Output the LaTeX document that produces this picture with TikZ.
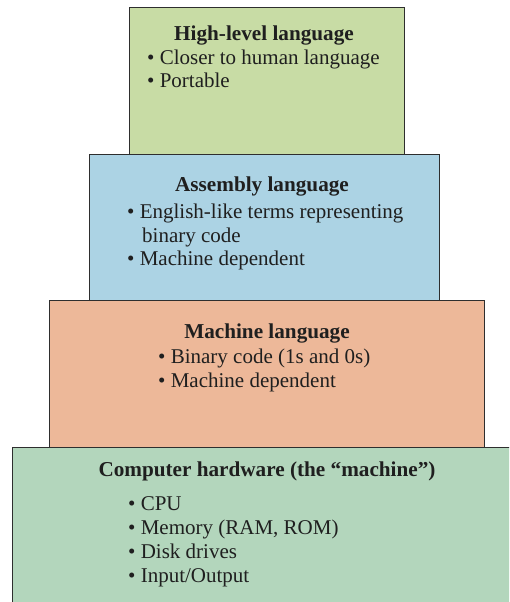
\documentclass[tikz,border=0pt]{standalone}
\usepackage{fontspec}
\setmainfont{Liberation Serif}
\definecolor{cHigh}{HTML}{C8DCA5}
\definecolor{cAsm}{HTML}{ACD3E4}
\definecolor{cMach}{HTML}{EDB899}
\definecolor{cHw}{HTML}{B3D6BC}
\definecolor{edge}{HTML}{2E2E2E}
\begin{document}
\begin{tikzpicture}[x=1pt,y=-1pt,
  layer/.style={draw=edge,line width=0.9pt},
  ttl/.style={anchor=base,inner sep=0pt,font=\fontsize{21.2}{23}\selectfont\bfseries,text=black!88},
  itm/.style={anchor=base west,inner sep=0pt,font=\fontsize{21}{23}\selectfont,text=black!88}]
\useasboundingbox (0,0) rectangle (509,602);
\clip (0,0) rectangle (509,602);
% layers
\draw[layer,fill=cHigh] (129,7) rectangle (404,154);
\draw[layer,fill=cAsm] (89,154) rectangle (439,300);
\draw[layer,fill=cMach] (49,300) rectangle (484,447);
\draw[layer,fill=cHw] (12,447) rectangle (530,630);
% high-level
\node[ttl] (t1) at (264,41) {High-level language};
\node[itm] (h1) at (147,65) {• Closer to human language};
\node[itm] (h2) at (147,88) {• Portable};
% assembly
\node[ttl] (t2) at (262,191) {Assembly language};
\node[itm] (a1) at (127,218) {• English-like terms representing};
\node[itm] (a2) at (142,242) {binary code};
\node[itm] (a3) at (127,265) {• Machine dependent};
% machine
\node[ttl] (t3) at (267,338) {Machine language};
\node[itm] (m1) at (158,363) {• Binary code (1s and 0s)};
\node[itm] (m2) at (158,387) {• Machine dependent};
% hardware
\node[ttl] (t4) at (267,476) {Computer hardware (the “machine”)};
\node[itm] (c1) at (128,510) {• CPU};
\node[itm] (c2) at (128,534) {• Memory (RAM, ROM)};
\node[itm] (c3) at (128,558) {• Disk drives};
\node[itm] (c4) at (128,582) {• Input/Output};
\end{tikzpicture}
\end{document}
